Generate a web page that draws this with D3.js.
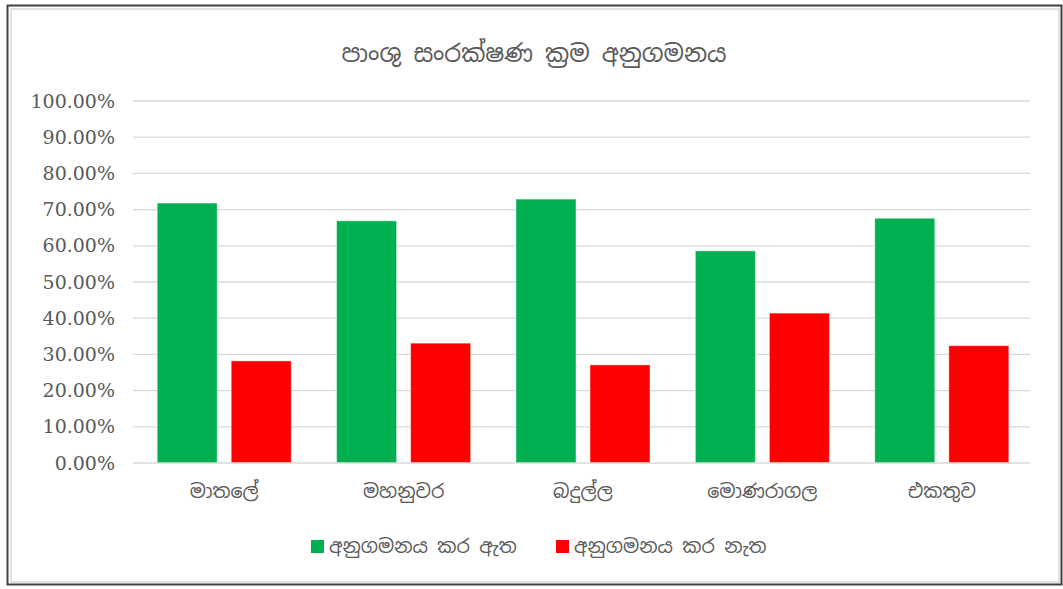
<!DOCTYPE html>
<html>
<head>
<meta charset="utf-8">
<script src="https://cdn.jsdelivr.net/npm/d3@7"></script>
<style>
  body { margin: 0; background: #fff; }
  text { font-family: "Noto Sans Sinhala", "Iskoola Pota", "DejaVu Sans", sans-serif; }
</style>
</head>
<body>
<div id="chart"></div>
<script>
var categories = ['මාතලේ', 'මහනුවර', 'බදුල්ල', 'මොණරාගල', 'එකතුව'];
var seriesNames = ['අනුගමනය කර ඇත', 'අනුගමනය කර නැත'];
var followed = [71.8, 66.9, 72.9, 58.6, 67.6];
var notFollowed = [28.2, 33.1, 27.1, 41.4, 32.4];
var yTicks = [0, 10, 20, 30, 40, 50, 60, 70, 80, 90, 100];
var colors = ['#00b050', '#ff0000'];

var svgWidth = 1063;
var svgHeight = 589;
var margin = {top: 101, right: 33, bottom: 126, left: 133};
var width = svgWidth - margin.left - margin.right;
var height = svgHeight - margin.top - margin.bottom;

var data = categories.map(function(c, i) {
  return {cat: c, values: [followed[i], notFollowed[i]]};
});

var svg = d3.select('#chart')
  .append('svg')
  .attr('width', svgWidth)
  .attr('height', svgHeight);

// outer frame
svg.append('rect')
  .attr('x', 7.5).attr('y', 5.5)
  .attr('width', 1054).attr('height', 579)
  .attr('fill', 'none').attr('stroke', '#404040').attr('stroke-width', 2);
svg.append('rect')
  .attr('x', 11).attr('y', 9)
  .attr('width', 1048).attr('height', 573)
  .attr('fill', 'none').attr('stroke', '#d9d9d9').attr('stroke-width', 1.5);

var x0 = d3.scaleBand()
  .domain(categories)
  .range([0, width]);

var x1 = d3.scaleBand()
  .domain([0, 1])
  .range([0, 134])
  .paddingInner(0.19);

var y = d3.scaleLinear()
  .domain([0, 100])
  .range([height, 0]);

var main = svg.append('g')
  .attr('transform', 'translate(' + margin.left + ',' + margin.top + ')');

// gridlines
main.append('g')
  .selectAll('line')
  .data(yTicks.slice(1))
  .enter()
  .append('line')
  .attr('x1', 0).attr('x2', width)
  .attr('y1', function(d) { return y(d); })
  .attr('y2', function(d) { return y(d); })
  .attr('stroke', '#d9d9d9')
  .attr('stroke-width', 1.3);

// y axis labels
var yAxis = d3.axisLeft(y)
  .tickValues(yTicks)
  .tickSize(0)
  .tickPadding(18)
  .tickFormat(function(d) { return d.toFixed(2) + '%'; });

main.append('g')
  .attr('class', 'y axis')
  .call(yAxis)
  .call(function(g) { g.select('.domain').remove(); })
  .selectAll('text')
  .attr('fill', '#595959')
  .style('font-family', '"DejaVu Serif", serif')
  .style('font-size', '19px');

// bars
var groups = main.append('g')
  .selectAll('g')
  .data(data)
  .enter()
  .append('g')
  .attr('transform', function(d) {
    return 'translate(' + (x0(d.cat) + x0.bandwidth() / 2 - 65.5) + ',0)';
  });

groups.selectAll('rect')
  .data(function(d) { return d.values; })
  .enter()
  .append('rect')
  .attr('x', function(d, i) { return x1(i); })
  .attr('y', function(d) { return y(d); })
  .attr('width', x1.bandwidth())
  .attr('height', function(d) { return height - y(d); })
  .attr('fill', function(d, i) { return colors[i]; })
  .attr('stroke', '#fff')
  .attr('stroke-opacity', 0.4)
  .attr('stroke-width', 1);

// x axis line
main.append('line')
  .attr('x1', 0).attr('x2', width)
  .attr('y1', height).attr('y2', height)
  .attr('stroke', '#d9d9d9')
  .attr('stroke-width', 1.3);

// x axis labels
var xAxis = d3.axisBottom(x0).tickSize(0).tickPadding(22);
main.append('g')
  .attr('transform', 'translate(1.5,' + height + ')')
  .call(xAxis)
  .call(function(g) { g.select('.domain').remove(); })
  .selectAll('text')
  .attr('fill', '#595959')
  .style('font-size', '19px');

// title
svg.append('text')
  .attr('x', 534)
  .attr('y', 62)
  .attr('text-anchor', 'middle')
  .attr('fill', '#595959')
  .style('font-size', '24px')
  .text('පාංශු සංරක්ෂණ ක්‍රම අනුගමනය');

// legend
var legendX = [311, 556];
var legend = svg.append('g')
  .selectAll('g')
  .data(seriesNames)
  .enter()
  .append('g')
  .attr('transform', function(d, i) { return 'translate(' + legendX[i] + ',540)'; });

legend.append('rect')
  .attr('x', 0).attr('y', 0)
  .attr('width', 13).attr('height', 13)
  .attr('fill', function(d, i) { return colors[i]; });

legend.append('text')
  .attr('x', 18)
  .attr('y', 13)
  .attr('fill', '#595959')
  .style('font-size', '19px')
  .text(function(d) { return d; });
</script>
</body>
</html>
